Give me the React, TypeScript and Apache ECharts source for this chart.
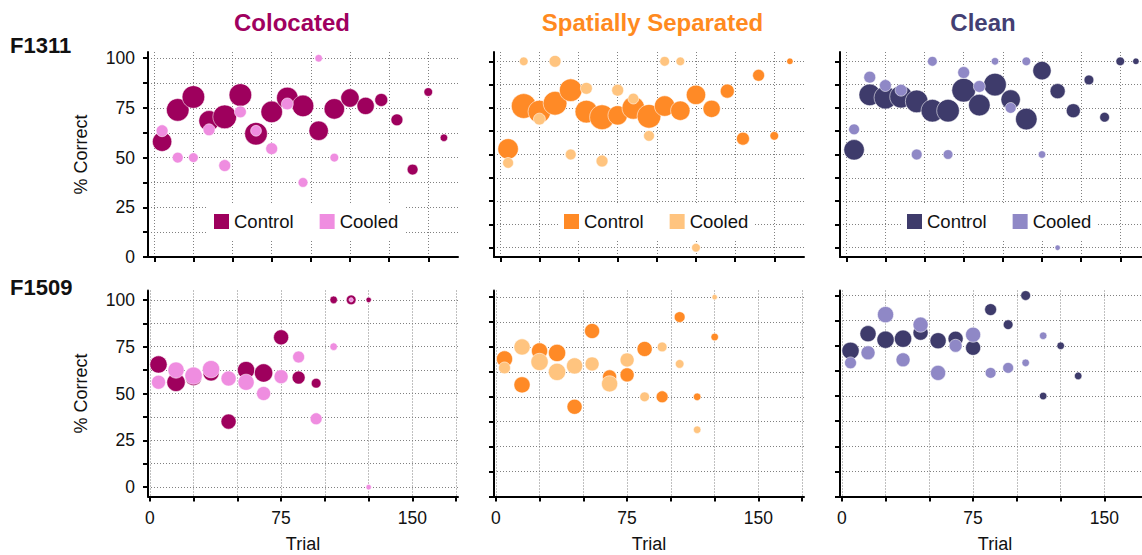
import React, { useEffect, useRef } from "react";
import * as echarts from "echarts";

const FONT = "'Liberation Sans', Arial, Helvetica, sans-serif";

const CONDITIONS = ["Colocated", "Spatially Separated", "Clean"];
const FERRETS = ["F1311", "F1509"];
const GROUPS = ["Control", "Cooled"];

// Trial bins (x values)
const TRIALS_F1311 = [5, 15, 25, 35, 45, 55, 65, 75, 85, 95, 105, 115, 125, 135, 145, 155, 165, 175, 185];
const TRIALS_F1509 = [5, 15, 25, 35, 45, 55, 65, 75, 85, 95, 105, 115, 125, 135];

// Axis ticks / labels
const X_TICKS = [0, 25, 50, 75, 100, 125, 150, 175];
const X_TICK_LABELS = [0, 75, 150];
const Y_TICKS = [0, 12.5, 25, 37.5, 50, 62.5, 75, 87.5, 100];
const Y_TICK_LABELS = [0, 25, 50, 75, 100];
const X_RANGE_F1509 = [-1, 176];

// ---- F1311 : % correct and bubble weight ----
const f1311ColocatedControlPct = [58, 74, 80.5, 68.5, 70.5, 81.5, 62, 73, 80, 76, 63.5, 74.5, 80, 76, 79, 69, 44, 83, 60];
const f1311ColocatedControlN = [18, 21, 21, 19, 22, 21, 21, 20, 20, 20, 18, 19, 17, 16, 12, 11, 10, 8, 7];
const f1311ColocatedCooledPct = [63.5, 50, 50, 64, 46, 73, 63.5, 54.5, 77, 37.5, 100, 50];
const f1311ColocatedCooledN = [11, 10, 9, 11, 11, 11, 10, 11, 11, 9, 7, 8];

const f1311SpatialControlPct = [53, 76, 73, 77.5, 84.5, 73, 70, 71, 75, 70.5, 76, 73.5, 82, 74.5, 84, 58.5, 92.5, 60, 100];
const f1311SpatialControlN = [19, 23, 21, 22, 21, 21, 23, 18, 21, 22, 19, 18, 18, 16, 13, 12, 11, 8, 6];
const f1311SpatialCooledPct = [45.5, 100, 69, 100, 50, 85.5, 46.5, 84.5, 80, 60, 100, 100, 0];
const f1311SpatialCooledN = [10, 8, 11, 11, 10, 11, 11, 11, 10, 10, 9, 8, 8];

const f1311CleanControlPct = [52.5, 82, 80.5, 81, 78.5, 73.5, 73.5, 84.5, 76.5, 87.5, 79.5, 69, 95, 84, 73.5, 90, 70, 100, 100];
const f1311CleanControlN = [19, 20, 21, 21, 21, 21, 21, 22, 20, 21, 18, 20, 17, 14, 13, 9, 9, 8, 6];
const f1311CleanCooledPct = [63.5, 91.5, 87, 84.5, 50, 100, 50, 94, 86.5, 100, 75, 100, 50, 0];
const f1311CleanCooledN = [10, 11, 11, 11, 10, 9, 9, 11, 11, 7, 10, 8, 7, 5];

// ---- F1509 : % correct and bubble weight ----
const f1509ColocatedControlPct = [65.5, 56, 58.5, 61, 35, 62.5, 61, 80, 58.5, 55.5, 100, 100, 100];
const f1509ColocatedControlN = [16, 17, 15, 15, 14, 16, 17, 14, 12, 9, 7, 9, 5];
const f1509ColocatedCooledPct = [56, 62.5, 59.5, 63, 58, 56, 50, 59, 69.5, 36.5, 75, 100, 0];
const f1509ColocatedCooledN = [13, 15, 16, 16, 14, 15, 13, 13, 11, 11, 7, 4, 5];

const f1509SpatialControlPct = [69, 56, 73, 72, 45, 83, 60, 61, 74, 50, 90, 50, 80];
const f1509SpatialControlN = [15, 15, 15, 16, 14, 14, 13, 13, 14, 11, 10, 7, 7];
const f1509SpatialCooledPct = [64.5, 75, 67.5, 62.5, 65.5, 66.5, 56.5, 68.5, 50, 75, 66.5, 33.5, 100];
const f1509SpatialCooledN = [11, 15, 16, 16, 15, 13, 15, 13, 9, 9, 8, 7, 5];

const f1509CleanControlPct = [72.5, 81, 78, 78.5, 81.5, 77.5, 78.5, 74, 93, 85.5, 100, 50, 75, 60];
const f1509CleanControlN = [16, 15, 16, 16, 14, 15, 14, 14, 11, 9, 9, 7, 7, 7];
const f1509CleanCooledPct = [66.5, 71.5, 90.5, 68, 85.5, 61.5, 75, 80.5, 61.5, 64, 66.5, 80];
const f1509CleanCooledN = [11, 13, 15, 13, 14, 14, 12, 14, 10, 10, 7, 7];

const PANELS = [
  { row: 0, col: 0, trials: TRIALS_F1311, ctrl: [f1311ColocatedControlPct, f1311ColocatedControlN], cool: [f1311ColocatedCooledPct, f1311ColocatedCooledN] },
  { row: 0, col: 1, trials: TRIALS_F1311, ctrl: [f1311SpatialControlPct, f1311SpatialControlN], cool: [f1311SpatialCooledPct, f1311SpatialCooledN] },
  { row: 0, col: 2, trials: TRIALS_F1311, ctrl: [f1311CleanControlPct, f1311CleanControlN], cool: [f1311CleanCooledPct, f1311CleanCooledN] },
  { row: 1, col: 0, trials: TRIALS_F1509, ctrl: [f1509ColocatedControlPct, f1509ColocatedControlN], cool: [f1509ColocatedCooledPct, f1509ColocatedCooledN] },
  { row: 1, col: 1, trials: TRIALS_F1509, ctrl: [f1509SpatialControlPct, f1509SpatialControlN], cool: [f1509SpatialCooledPct, f1509SpatialCooledN] },
  { row: 1, col: 2, trials: TRIALS_F1509, ctrl: [f1509CleanControlPct, f1509CleanControlN], cool: [f1509CleanCooledPct, f1509CleanCooledN] },
];

// Styles / layout
const CONTROL_COLORS = ["#9e005d", "#ff8a26", "#3e3b6b"];
const COOLED_COLORS = ["#ef8de0", "#ffc47f", "#8f88c6"];
const TITLE_COLORS = ["#a0005f", "#ff8a1f", "#433f73"];
const GRID_LEFT = [148, 494, 840];
const GRID_WIDTH = 310;
const GRID_TOP = [52, 290.5];
const GRID_HEIGHT = [205, 206];
const LEGEND_LEFT = [208, 558, 901];
const TITLE_X = [292, 652.5, 983];
const BUBBLE_SCALE = 1.08;

function padRange(vals: number[]) {
  const lo = Math.min(...vals);
  const hi = Math.max(...vals);
  const p = 0.05 * (hi - lo);
  return [Math.min(0, lo - p), hi + p];
}

function toPoints(trials: number[], pct: number[], n: number[]) {
  return pct.map((v, i) => [trials[i], v, n[i]]);
}

function buildOption() {
  const grid: any[] = [];
  const xAxis: any[] = [];
  const yAxis: any[] = [];
  const series: any[] = [];
  const legend: any[] = [];
  const axisColor = "#000";
  const splitLine = { show: true, lineStyle: { color: "#808080", width: 1, type: [1, 2] } };

  PANELS.forEach((p, idx) => {
    const { row, col } = p;
    grid.push({
      left: GRID_LEFT[col],
      width: GRID_WIDTH,
      top: GRID_TOP[row],
      height: GRID_HEIGHT[row],
      containLabel: false,
      outerBoundsMode: "none",
    });
    const xr = row === 0 ? padRange(p.trials) : X_RANGE_F1509;
    const yr = padRange([...p.ctrl[0], ...p.cool[0]]);
    xAxis.push({
      gridIndex: idx,
      type: "value",
      min: xr[0],
      max: xr[1],
      axisLine: { show: true, onZero: false, lineStyle: { color: axisColor, width: 2 } },
      axisTick: { show: true, length: 5, customValues: X_TICKS, lineStyle: { color: axisColor, width: 2 } },
      axisLabel: {
        show: row === 1,
        customValues: X_TICK_LABELS,
        margin: 12,
        fontSize: 17.5,
        color: "#111",
        fontFamily: FONT,
      },
      splitLine,
      name: row === 1 ? "Trial" : "",
      nameLocation: "middle",
      nameGap: 38,
      nameTextStyle: { fontSize: 18, color: "#111", fontFamily: FONT },
    });
    yAxis.push({
      gridIndex: idx,
      type: "value",
      min: yr[0],
      max: yr[1],
      axisLine: { show: true, onZero: false, lineStyle: { color: axisColor, width: 2 } },
      axisTick: { show: true, length: 5, customValues: Y_TICKS, lineStyle: { color: axisColor, width: 2 } },
      axisLabel: {
        show: col === 0,
        customValues: Y_TICK_LABELS,
        margin: 13,
        fontSize: 17.5,
        color: "#111",
        fontFamily: FONT,
      },
      splitLine,
      name: col === 0 ? "% Correct" : "",
      nameLocation: "middle",
      nameRotate: 90,
      nameGap: 58,
      nameTextStyle: { fontSize: 18, color: "#111", fontFamily: FONT },
    });
    const groups = [p.ctrl, p.cool];
    const colors = [CONTROL_COLORS[col], COOLED_COLORS[col]];
    groups.forEach((g, gi) => {
      series.push({
        type: "scatter",
        name: `${GROUPS[gi]}#${row}${col}`,
        xAxisIndex: idx,
        yAxisIndex: idx,
        data: toPoints(p.trials, g[0], g[1]),
        symbol: "circle",
        symbolSize: (v: number[]) => v[2] * BUBBLE_SCALE,
        itemStyle: { color: colors[gi], opacity: 1, borderColor: "rgba(255,255,255,0.55)", borderWidth: 1 },
        emphasis: { disabled: true },
        z: 2 + gi,
      });
    });
    if (row === 0) {
      legend.push({
        left: LEGEND_LEFT[col],
        top: 204,
        orient: "horizontal",
        padding: [8, 6, 8, 6],
        backgroundColor: "#ffffff",
        itemWidth: 15,
        itemHeight: 15,
        itemGap: 26,
        icon: "rect",
        selectedMode: false,
        itemStyle: { borderWidth: 0 },
        textStyle: { fontSize: 18.5, color: "#111", fontFamily: FONT },
        formatter: (name: string) => name.split("#")[0],
        data: GROUPS.map((g) => `${g}#${row}${col}`),
      });
    }
  });

  const graphic: any[] = [];
  CONDITIONS.forEach((c, i) => {
    graphic.push({
      type: "text",
      x: TITLE_X[i],
      y: 10,
      style: {
        text: c,
        fill: TITLE_COLORS[i],
        font: `bold 24px ${FONT}`,
        textAlign: "center",
        textVerticalAlign: "top",
      },
    });
  });
  FERRETS.forEach((f, i) => {
    graphic.push({
      type: "text",
      x: 10,
      y: i === 0 ? 34.8 : 276.4,
      style: {
        text: f,
        fill: "#111",
        font: `bold 22px ${FONT}`,
        textAlign: "left",
        textVerticalAlign: "top",
      },
    });
  });

  return {
    animation: false,
    backgroundColor: "#ffffff",
    grid,
    xAxis,
    yAxis,
    series,
    legend,
    graphic,
  };
}

export default function App() {
  const ref = useRef<HTMLDivElement>(null);
  useEffect(() => {
    if (!ref.current) return;
    const chart = echarts.init(ref.current, undefined, { renderer: "svg" });
    chart.setOption(buildOption() as any);
    return () => chart.dispose();
  }, []);
  return (
    <div
      ref={ref}
      style={{ position: "absolute", left: 0, top: 0, width: 1142, height: 555 }}
    />
  );
}
